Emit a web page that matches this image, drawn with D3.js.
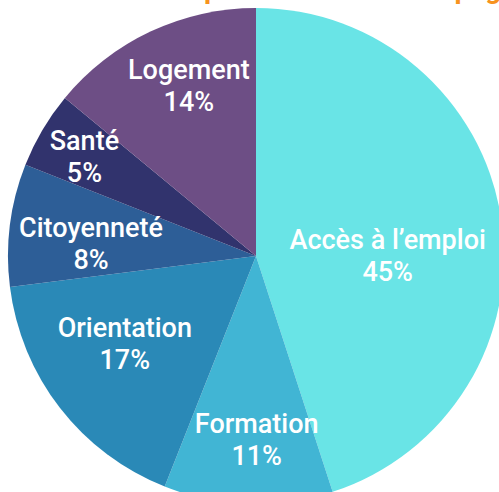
<!DOCTYPE html>
<html>
<head>
<meta charset="utf-8">
<title>Accompagnements</title>
<style>
  html, body { margin: 0; padding: 0; background: #fff; }
  body { font-family: Roboto, "Noto Sans", sans-serif; }
</style>
</head>
<body>
<div id="chart-holder"></div>
<script src="https://d3js.org/d3.v7.min.js"></script>
<script>
// data
var categories = ['Accès à l’emploi', 'Formation', 'Orientation', 'Citoyenneté', 'Santé', 'Logement'];
var shares = [45, 11, 17, 8, 5, 14];
var pctLabels = ['45%', '11%', '17%', '8%', '5%', '14%'];
var colors = ['#69e4e6', '#41b5d4', '#2a89b7', '#2d5e97', '#31336d', '#6d4e85'];

// label placement (radius in px, angle nudge in degrees)
var labelRadius = [132, 193, 163, 165, 194, 174];
var labelNudge = [13, -2, 1.4, -6.3, -2.8, 2.5];

var width = 499;
var height = 492;
var cx = 256, cy = 256, radius = 248;

var svg = d3.select('#chart-holder')
            .append('svg')
            .attr('width', width)
            .attr('height', height);

// title, mostly above the visible area
svg.append('text')
   .attr('x', 171)
   .attr('y', -2)
   .attr('fill', '#f7931e')
   .attr('font-size', '28px')
   .attr('font-weight', 700)
   .text('Répartition des accompagnements');

var g = svg.append('g')
           .attr('transform', 'translate(' + cx + ',' + cy + ')');

var pie = d3.pie().sort(null).value(function(d) { return d; });
var arcs = pie(shares);

var arc = d3.arc().innerRadius(0).outerRadius(radius);

g.selectAll('.slice')
 .data(arcs)
 .enter()
 .append('path')
 .attr('class', 'slice')
 .attr('fill', function(d, i) { return colors[i]; })
 .attr('d', arc);

// labels
var labels = g.selectAll('.label')
  .data(arcs)
  .enter()
  .append('g')
  .attr('class', 'label')
  .attr('transform', function(d, i) {
      var a = (d.startAngle + d.endAngle) / 2 + labelNudge[i] * Math.PI / 180;
      var r = labelRadius[i];
      return 'translate(' + (Math.sin(a) * r) + ',' + (-Math.cos(a) * r) + ')';
  });

labels.append('text')
  .attr('y', -16)
  .attr('text-anchor', 'middle')
  .attr('fill', '#fff')
  .attr('font-size', '27px')
  .attr('font-weight', 500)
  .text(function(d, i) { return categories[i]; });

labels.append('text')
  .attr('y', 16)
  .attr('text-anchor', 'middle')
  .attr('fill', '#fff')
  .attr('font-size', '27px')
  .attr('font-weight', 500)
  .text(function(d, i) { return pctLabels[i]; });
</script>
</body>
</html>
